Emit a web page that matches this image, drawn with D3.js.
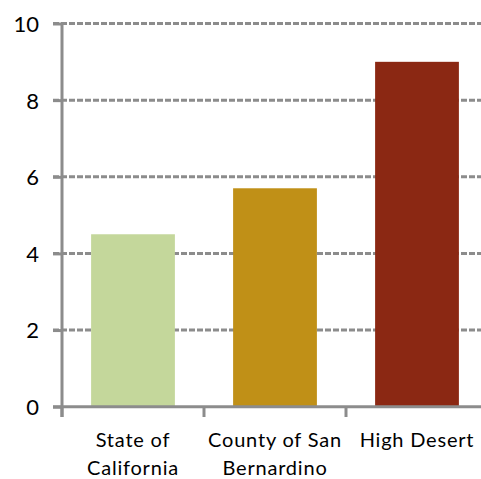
<!DOCTYPE html>
<html><head><meta charset="utf-8">
<script src="https://cdn.jsdelivr.net/npm/d3@7"></script>
<style>body{margin:0;background:#fff;} svg{display:block;}</style>
</head><body>
<svg id="c" width="481" height="479"></svg>
<script>
const categories = [["State of","California"],["County of San","Bernardino"],["High Desert"]];
const values = [4.5, 5.7, 9.0];
const colors = ["#C4D79B", "#C09017", "#8B2813"];
const yTicks = [0, 2, 4, 6, 8, 10];

const svg = d3.select("#c");
const font = "Lato, 'Open Sans', sans-serif";
const grey = "#8c8c8c";

const x = d3.scaleBand().domain(d3.range(categories.length))
  .range([62, 488]).paddingInner(0.41).paddingOuter(0.205);
const y = d3.scaleLinear().domain([0, 10]).range([406.7, 23.5]);

// gridlines
svg.append("g").selectAll("line").data(yTicks.filter(d => d > 0)).join("line")
  .attr("x1", 53).attr("x2", 481)
  .attr("y1", d => y(d)).attr("y2", d => y(d))
  .attr("stroke", grey).attr("stroke-width", 3).attr("stroke-dasharray", "6,2");

// bars
svg.append("g").selectAll("rect").data(values).join("rect")
  .attr("x", (d, i) => x(i)).attr("width", x.bandwidth())
  .attr("y", d => y(d)).attr("height", d => y(0) - y(d))
  .attr("fill", (d, i) => colors[i]);

// y axis
const yAxis = d3.axisLeft(y).tickValues(yTicks).tickSize(9).tickPadding(14);
const yg = svg.append("g").attr("transform", "translate(62,0)").call(yAxis);
yg.select(".domain").remove();
yg.selectAll(".tick line").attr("stroke", grey).attr("stroke-width", 3);
yg.selectAll(".tick text").attr("font-family", font).attr("font-size", 22).attr("fill", "#000")
  .attr("dy", "0.36em");
svg.append("line").attr("x1", 62).attr("x2", 62).attr("y1", y(10)).attr("y2", 417)
  .attr("stroke", grey).attr("stroke-width", 3);

// x axis
svg.append("line").attr("x1", 53).attr("x2", 481).attr("y1", y(0)).attr("y2", y(0))
  .attr("stroke", grey).attr("stroke-width", 3);
const step = x.step();
const boundaries = d3.range(categories.length + 1).map(i => 62 + i * step);
svg.append("g").selectAll("line").data(boundaries).join("line")
  .attr("x1", d => d).attr("x2", d => d).attr("y1", y(0)).attr("y2", 417)
  .attr("stroke", grey).attr("stroke-width", 3);

// category labels
const lab = svg.append("g").selectAll("text").data(categories).join("text")
  .attr("font-family", font).attr("font-size", 20).attr("fill", "#000")
  .attr("letter-spacing", 0.8)
  .attr("text-anchor", "middle")
  .attr("x", (d, i) => x(i) + x.bandwidth() / 2)
  .attr("y", 447);
lab.selectAll("tspan").data(d => d).join("tspan")
  .attr("x", function() { return this.parentNode.getAttribute("x"); })
  .attr("dy", (d, i) => i === 0 ? 0 : 28)
  .text(d => d);
</script>
</body></html>
